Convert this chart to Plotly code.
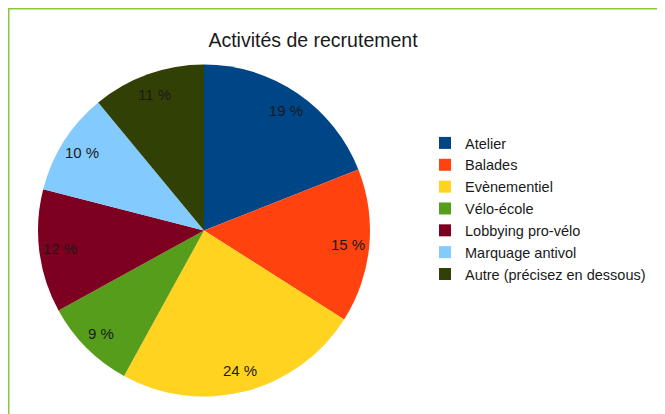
import math
import plotly.graph_objects as go

categories = ["Atelier", "Balades", "Evènementiel", "Vélo-école",
              "Lobbying pro-vélo", "Marquage antivol", "Autre (précisez en dessous)"]
values = [19, 15, 24, 9, 12, 10, 11]
colors = ["#004586", "#ff420e", "#ffd320", "#579d1c", "#7e0021", "#83caff", "#314004"]

# page body adds an 8px margin; work in figure coordinates
W, H = 657, 406
cx, cy, R = 196, 222.5, 166
label_r = 145
FONT = "Liberation Sans, Arial, sans-serif"

fig = go.Figure()
fig.add_trace(go.Pie(
    labels=categories, values=values, sort=False, direction="clockwise",
    rotation=0, marker=dict(colors=colors, line=dict(width=0)),
    textinfo="none", hoverinfo="label+percent",
    domain=dict(x=[(cx - R) / W, (cx + R) / W], y=[1 - (cy + R) / H, 1 - (cy - R) / H]),
))

total = sum(values)
cum = 0
annotations = []
for v in values:
    mid = (cum + v / 2) / total * 2 * math.pi
    cum += v
    px = cx + label_r * math.sin(mid)
    py = cy - label_r * math.cos(mid)
    annotations.append(dict(x=px / W, y=1 - py / H, xref="paper", yref="paper",
                            xanchor="center", yanchor="middle",
                            text=f"{round(v / total * 100)} %", showarrow=False,
                            font=dict(family=FONT, size=15, color="#1a1a1a")))

fig.update_layout(
    width=W, height=H, margin=dict(l=0, r=0, t=0, b=0),
    paper_bgcolor="white", plot_bgcolor="white",
    title=dict(text="Activités de recrutement", x=305 / W, xanchor="center",
               y=1 - 32 / H, yanchor="middle",
               font=dict(family=FONT, size=19.5, color="#1a1a1a")),
    legend=dict(x=417 / W, xanchor="left", y=1 - 119 / H, yanchor="top",
                font=dict(family=FONT, size=14.5, color="#1a1a1a"),
                bgcolor="rgba(0,0,0,0)", traceorder="normal"),
    annotations=annotations,
    shapes=[
        dict(type="line", xref="paper", yref="paper", x0=0, x1=1, y0=1 - 0.75 / H, y1=1 - 0.75 / H,
             line=dict(color="#8cc63f", width=1.5)),
        dict(type="line", xref="paper", yref="paper", x0=0.75 / W, x1=0.75 / W, y0=0, y1=1,
             line=dict(color="#8cc63f", width=1.5)),
    ],
)
fig.write_html("out.html")
